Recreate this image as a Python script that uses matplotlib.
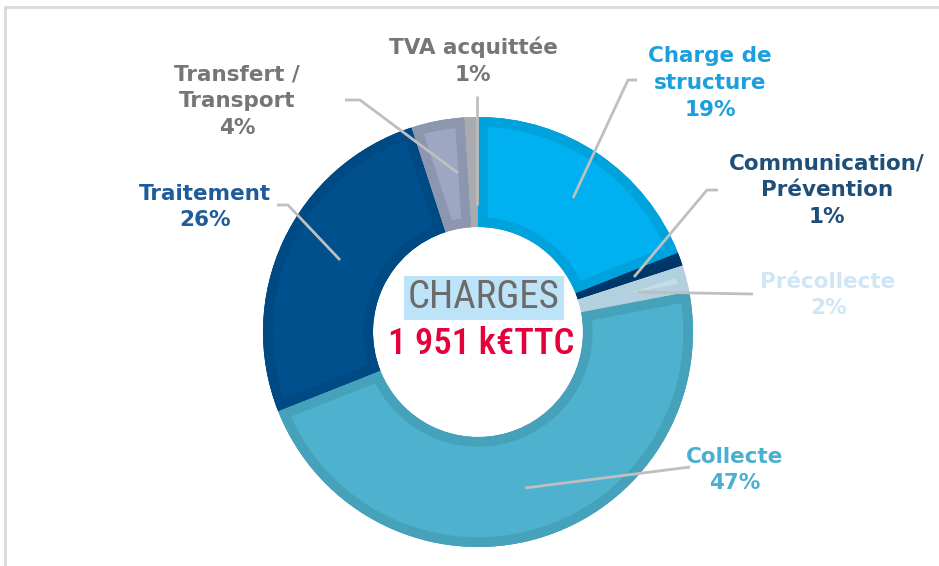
import matplotlib
matplotlib.use("Agg")
from matplotlib import pyplot as plt

# data
categories = ["Charge de\nstructure", "Communication/\nPrévention", "Précollecte",
              "Collecte", "Traitement", "Transfert /\nTransport", "TVA acquittée"]
shares = [19, 1, 2, 47, 26, 4, 1]
fills = ["#00B0F0", "#003C74", "#C2DCE8", "#4EB2CF", "#00508E", "#9DA7C1", "#B4B6BC"]
borders = ["#00A2DC", "#00376B", "#B3D0DE", "#46A2BA", "#004A84", "#8C96AE", "#A9ABB1"]
label_colors = ["#1CA0DD", "#1F4E79", "#CFE6F5", "#4BAFD0", "#1F5C99", "#767676", "#767676"]

# layout (pixel coords, y measured from top)
W, H = 939, 566
cx, cy = 478, 332
R, ring = 215, 110
label_pos = [(710, 83), (827, 190), (828, 295), (735, 470), (205, 207), (237, 101), (473, 61)]
leaders = [
    [(637, 80), (628, 80), (573, 198)],
    [(718, 190), (707, 190), (634, 277)],
    [(753, 294), (638, 292)],
    [(690, 467), (525, 488)],
    [(277, 205), (288, 205), (340, 260)],
    [(345, 100), (360, 100), (458, 173)],
    [(477, 96), (477, 205)],
]

fig = plt.figure(figsize=(W / 100, H / 100), dpi=100)
ax = fig.add_axes([0, 0, 1, 1])

# base ring in border colours (hides seams), then the inset-bordered slices
ax.pie(shares, startangle=90, counterclock=False, center=(cx, H - cy), radius=R,
       colors=borders, wedgeprops={"width": ring, "linewidth": 0}, frame=True)
wedges, _ = ax.pie(shares, startangle=90, counterclock=False, center=(cx, H - cy),
                   radius=R, wedgeprops={"width": ring}, frame=True)
ax.set_xlim(0, W)
ax.set_ylim(0, H)
ax.set_aspect("equal")
ax.axis("off")
for w, f, b in zip(wedges, fills, borders):
    w.set_facecolor(f)
    w.set_edgecolor(b)
    w.set_linewidth(14)
    w.set_clip_on(True)
    w.set_clip_path(w.get_path(), w.get_transform())

# leader lines
for pts in leaders:
    xs = [p[0] for p in pts]
    ys = [H - p[1] for p in pts]
    ax.plot(xs, ys, color="#BFBFBF", lw=2, solid_capstyle="butt", zorder=3)

# labels
for name, s, col, (lx, ly) in zip(categories, shares, label_colors, label_pos):
    ax.text(lx, H - ly, f"{name}\n{s}%", ha="center", va="center", color=col,
            fontsize=15.5, fontweight="bold", linespacing=1.42, family="DejaVu Sans")

# centre text
ax.text(cx + 6, H - 298, "CHARGES", ha="center", va="center", color="#6B6B6B",
        fontsize=28, family=["Roboto Condensed", "Roboto", "DejaVu Sans"],
        bbox=dict(boxstyle="square,pad=0.1", fc="#BDE3F9", ec="none"))
ax.text(cx + 3, H - 344, "1 951 k€TTC", ha="center", va="center", color="#E4003A",
        fontsize=26.5, fontweight="medium", family=["Roboto Condensed", "Roboto", "DejaVu Sans"])

# frame
ax.plot([5, 5, W], [0, H - 7, H - 7], color="#D9D9D9", lw=2)

fig.savefig("out.png", dpi=100)
